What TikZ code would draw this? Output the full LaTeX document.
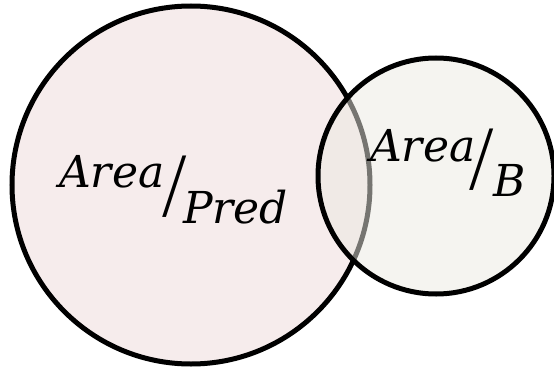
\documentclass[tikz,border=0pt]{standalone}
\usepackage{fontspec}
\setmainfont{DejaVu Serif}
\begin{document}
\begin{tikzpicture}[x=1pt,y=-1pt,
  predfill/.style={fill={rgb,255:red,246;green,236;blue,236}},
  bfill/.style={fill={rgb,255:red,236;green,234;blue,226},fill opacity=0.5},
  ring/.style={draw=black,line width=5pt},
  lbl/.style={inner sep=0pt,anchor=base west,font=\fontsize{44}{44}\selectfont\itshape},
  slashmark/.style={inner sep=0pt,font=\fontsize{44}{44}\selectfont\itshape}]
  \useasboundingbox (0,0) rectangle (554,369);
  % predicted region
  \path[predfill,ring] (191,185) circle[radius=179];
  % box B, half transparent so the first outline shows through
  \path[bfill] (436,176) circle[radius=118];
  \draw[ring] (436,176) circle[radius=118];
  % label of the predicted region
  \node[lbl] (areaP) at (59,187) {Area};
  \node[slashmark] (slashP) at (175,187) {\scalebox{1.1}[1.7]{/}};
  \node[lbl] (pred) at (183,223) {Pred};
  % label of box B
  \node[lbl] (areaB) at (370,161) {Area};
  \node[slashmark] (slashB) at (482,160) {\scalebox{1.1}[1.7]{/}};
  \node[lbl] (b) at (493,196) {B};
\end{tikzpicture}
\end{document}
